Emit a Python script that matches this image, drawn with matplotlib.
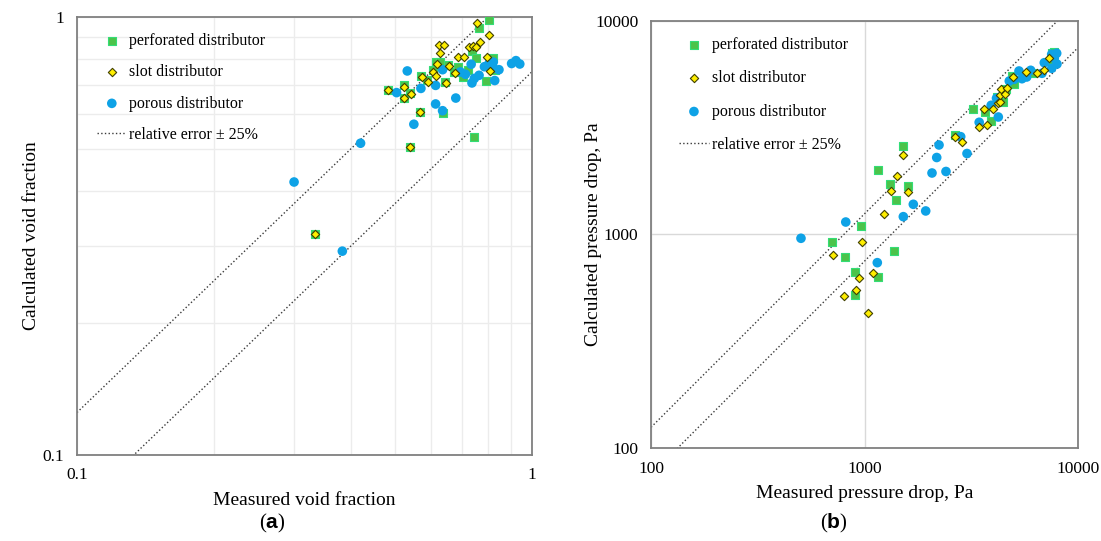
import numpy as np
import matplotlib
matplotlib.use("Agg")
import matplotlib.pyplot as plt

plt.rcParams['font.family'] = ['Liberation Serif', 'DejaVu Serif']
plt.rcParams['mathtext.fontset'] = 'custom'
plt.rcParams['mathtext.rm'] = 'Liberation Serif'
plt.rcParams['mathtext.bf'] = 'Liberation Sans:bold'

# (a) void fraction: measured / calculated
perf_void_x = [0.482, 0.522, 0.540, 0.522, 0.567, 0.540, 0.571, 0.587, 0.605, 0.614, 0.628, 0.644, 0.655,
               0.674, 0.686, 0.707, 0.725, 0.740, 0.752, 0.765, 0.806, 0.794, 0.822, 0.829, 0.639, 0.747, 0.333]
perf_void_y = [0.681, 0.698, 0.672, 0.652, 0.608, 0.506, 0.735, 0.718, 0.757, 0.788, 0.791, 0.709, 0.778,
               0.748, 0.770, 0.730, 0.756, 0.836, 0.808, 0.942, 0.984, 0.716, 0.805, 0.757, 0.605, 0.531, 0.319]

slot_void_x = [0.482, 0.522, 0.542, 0.522, 0.567, 0.540, 0.573, 0.591, 0.605, 0.614, 0.618, 0.626, 0.642, 0.628,
               0.647, 0.657, 0.678, 0.686, 0.709, 0.727, 0.743, 0.752, 0.767, 0.756, 0.803, 0.796, 0.808, 0.334]
slot_void_y = [0.681, 0.691, 0.667, 0.652, 0.608, 0.506, 0.728, 0.712, 0.748, 0.732, 0.780, 0.863, 0.863, 0.826,
               0.706, 0.774, 0.744, 0.809, 0.809, 0.854, 0.860, 0.852, 0.877, 0.967, 0.910, 0.810, 0.753, 0.319]

por_void_x = [0.300, 0.420, 0.550, 0.614, 0.636, 0.680, 0.504, 0.532, 0.570, 0.614, 0.636, 0.696, 0.714, 0.735,
              0.738, 0.747, 0.765, 0.786, 0.805, 0.822, 0.822, 0.846, 0.828, 0.902, 0.922, 0.940, 0.808, 0.383]
por_void_y = [0.420, 0.515, 0.569, 0.633, 0.611, 0.653, 0.672, 0.753, 0.687, 0.698, 0.758, 0.749, 0.740, 0.780,
              0.707, 0.724, 0.736, 0.770, 0.784, 0.789, 0.764, 0.758, 0.716, 0.783, 0.795, 0.781, 0.770, 0.292]

# (b) pressure drop, Pa: measured / calculated
perf_dp_x = [704, 813, 963, 900, 903, 1153, 1379, 1405, 1590, 1317, 1157, 1507, 2663, 3240, 3687, 3921,
             4153, 4924, 5030, 4600, 4439, 6173, 7595, 7550, 7700]
perf_dp_y = [925, 787, 1096, 667, 522, 634, 837, 1448, 1682, 1715, 2005, 2592, 2924, 3871, 3747, 3412,
             4420, 5543, 5069, 4787, 4175, 5689, 7059, 6335, 7135]

slot_dp_x = [712, 970, 939, 912, 799, 1035, 1100, 1230, 1331, 1590, 1420, 1520, 2654, 2862, 3445, 3735, 3628,
             3999, 4234, 4312, 4290, 4550, 4340, 4665, 4977, 5707, 6405, 6929, 7314]
slot_dp_y = [802, 919, 628, 550, 517, 430, 660, 1244, 1599, 1587, 1879, 2352, 2862, 2713, 3188, 3246, 3871,
             3858, 4117, 4162, 4487, 4550, 4787, 4855, 5484, 5787, 5725, 5894, 6689]

por_dp_x = [504, 817, 1148, 1520, 1693, 1935, 2071, 2408, 2179, 2234, 3021, 2822, 3445, 4234, 3921, 4153,
            4767, 5030, 5466, 5292, 5750, 6003, 6782, 6953, 7530, 7745, 7947, 7972, 7530]
por_dp_y = [960, 1144, 738, 1212, 1385, 1289, 1941, 1973, 2294, 2626, 2395, 2872, 3354, 3551, 4029, 4345,
            5236, 5332, 5366, 5832, 5466, 5875, 5689, 6376, 6003, 6689, 7059, 6287, 6982]

rel_err = 0.25


def draw_panel(ax, data, lims, xlabel, ylabel, grid_ticks, grid_color, ypad):
    (px, py), (sx, sy), (cx, cy) = data
    ax.set_xscale('log')
    ax.set_yscale('log')
    ax.set_xlim(lims)
    ax.set_ylim(lims)

    ax.set_xticks(grid_ticks, minor=True)
    ax.set_yticks(grid_ticks, minor=True)
    ax.grid(True, which='both', color=grid_color, lw=1.0, zorder=0)
    ax.tick_params(which='both', length=0, labelsize=12.5, pad=9)
    ax.tick_params(which='minor', labelbottom=False, labelleft=False)

    for s in ax.spines.values():
        s.set_color('#808080')
        s.set_linewidth(1.3)

    ax.scatter(px, py, marker='s', s=40, c='#4cc34a', edgecolors='#33dd77', linewidths=0.8,
               label='perforated distributor', zorder=3)
    ax.scatter(sx, sy, marker='D', s=18, c='#ffee00', edgecolors='#404000', linewidths=0.8,
               label='slot distributor', zorder=5)
    ax.scatter(cx, cy, marker='o', s=48, c='#0ea2e6', edgecolors='none',
               label='porous distributor', zorder=4)

    xs = np.array(lims)
    ax.plot(xs, xs * (1 + rel_err), ls=':', color='#3a3a3a', lw=1.0,
            label='relative error ± 25%', zorder=2)
    ax.plot(xs, xs * (1 - rel_err), ls=':', color='#3a3a3a', lw=1.0, zorder=2)

    ax.set_xlabel(xlabel, fontsize=14, labelpad=6)
    ax.set_ylabel(ylabel, fontsize=14, labelpad=ypad)


fig = plt.figure(figsize=(11.01, 5.41), dpi=100)
ax1 = fig.add_axes([0.0699, 0.159, 0.4133, 0.8096])
ax2 = fig.add_axes([0.5913, 0.1719, 0.3878, 0.7893])

draw_panel(ax1, [(perf_void_x, perf_void_y), (slot_void_x, slot_void_y), (por_void_x, por_void_y)],
           (0.1, 1), 'Measured void fraction', 'Calculated void fraction',
           [0.2, 0.3, 0.4, 0.5, 0.6, 0.7, 0.8, 0.9], '#ececec', 2)
ax1.set_xticks([0.1, 1])
ax1.set_xticklabels(['0.1', '1'])
ax1.set_yticks([0.1, 1])
ax1.set_yticklabels(['0.1', '1'])

draw_panel(ax2, [(perf_dp_x, perf_dp_y), (slot_dp_x, slot_dp_y), (por_dp_x, por_dp_y)],
           (100, 10000), 'Measured pressure drop, Pa', 'Calculated pressure drop, Pa',
           [], '#d9d9d9', -5)
ax2.set_xticks([100, 1000, 10000])
ax2.set_xticklabels(['100', '1000', '10000'])
ax2.set_yticks([100, 1000, 10000])
ax2.set_yticklabels(['100', '1000', '10000'])

ax1.legend(loc='upper left', bbox_to_anchor=(0.045, 0.963), frameon=False, fontsize=11.5,
           labelspacing=0.95, handlelength=1.8, handletextpad=0.2, borderpad=0, borderaxespad=0)
ax2.legend(loc='upper left', bbox_to_anchor=(0.065, 0.962), frameon=False, fontsize=11.5,
           labelspacing=1.08, handlelength=1.9, handletextpad=0.2, borderpad=0, borderaxespad=0)

fig.text(272 / 1101, 0.033, r'($\mathbf{a}$)', ha='center', va='center', fontsize=15)
fig.text(834 / 1101, 0.033, r'($\mathbf{b}$)', ha='center', va='center', fontsize=15)

fig.savefig('out.png', dpi=100)
